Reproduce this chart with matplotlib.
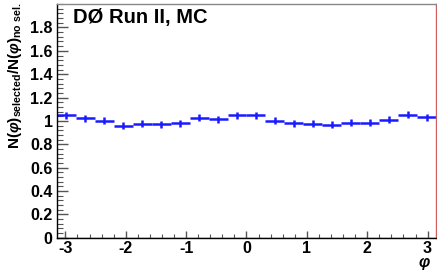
import numpy as np
import matplotlib
matplotlib.use("Agg")
import matplotlib.pyplot as plt
from matplotlib.ticker import MultipleLocator

plt.rcParams['font.family'] = ['Liberation Sans', 'DejaVu Sans']
plt.rcParams['mathtext.fontset'] = 'custom'
plt.rcParams['mathtext.rm'] = 'Liberation Sans:bold'
plt.rcParams['mathtext.bf'] = 'Liberation Sans:bold'
plt.rcParams['mathtext.it'] = 'Liberation Sans:italic:bold'
plt.rcParams['axes.unicode_minus'] = False

n_bins = 20
ratio = [1.049, 1.024, 1.003, 0.957, 0.977, 0.972, 0.980, 1.026, 1.014, 1.049,
         1.049, 1.003, 0.980, 0.977, 0.968, 0.985, 0.983, 1.009, 1.051, 1.032]
ratio_err = [0.03] * n_bins

edges = np.linspace(-np.pi, np.pi, n_bins + 1)
centers = 0.5 * (edges[:-1] + edges[1:])
half_w = 0.5 * (edges[1] - edges[0])

fig = plt.figure(figsize=(4.37, 2.73), dpi=100)
ax = fig.add_axes([0.130, 0.129, 0.868, 0.856])

ax.errorbar(centers, ratio, xerr=half_w, yerr=ratio_err, fmt='none',
            ecolor='#1a1aff', elinewidth=1.8, capsize=0)

ax.set_xlim(-np.pi, np.pi)
ax.set_ylim(0, 2)
ax.axhline(0, color='#c04040', lw=1.0)

ax.xaxis.set_major_locator(MultipleLocator(1))
ax.xaxis.set_minor_locator(MultipleLocator(0.2))
ax.yaxis.set_minor_locator(MultipleLocator(0.04))
ax.set_yticks(np.arange(0, 1.81, 0.2))
ax.set_yticklabels(['0', '0.2', '0.4', '0.6', '0.8', '1', '1.2', '1.4', '1.6', '1.8'])

ax.tick_params(which='both', direction='in', top=False, right=False,
               labelsize=11.5, color='#555555')
ax.tick_params(axis='y', which='major', length=7.9, width=1.0, pad=3)
ax.tick_params(axis='y', which='minor', length=4.3, width=0.8)
ax.tick_params(axis='x', which='major', length=5, width=1.0, pad=2.5)
ax.tick_params(axis='x', which='minor', length=2.9, width=0.8)
for lab in ax.get_xticklabels() + ax.get_yticklabels():
    lab.set_fontweight('bold')

ax.spines['left'].set_color('black')
ax.spines['bottom'].set_color('black')
ax.spines['top'].set_color('#888888')
ax.spines['right'].set_color('#d06060')
for s in ax.spines.values():
    s.set_linewidth(1.0)

ax.text(0.042, 0.985, 'DØ Run II, MC', transform=ax.transAxes, ha='left', va='top',
        fontsize=14.5, fontweight='bold')

fig.text(0.035, 0.99, r'N($\varphi$)$_{\mathbf{selected}}$/N($\varphi$)$_{\mathbf{no\ sel.}}$',
         rotation=90, ha='center', va='top', fontsize=11, fontweight='bold')
fig.text(0.972, 0.002, r'$\varphi$', ha='center', va='bottom', fontsize=11.5)

fig.savefig('out.png', dpi=100)
